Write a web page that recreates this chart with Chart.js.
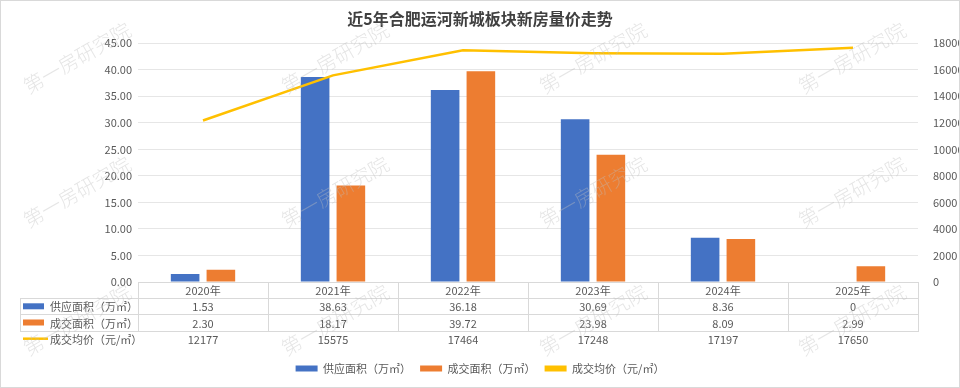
<!DOCTYPE html>
<html>
<head>
<meta charset="utf-8">
<script src="https://cdn.jsdelivr.net/npm/chart.js@4.4.0/dist/chart.umd.min.js"></script>
<style>
  body { margin: 0; background: #fff; }
  canvas { display: block; }
</style>
</head>
<body>
<canvas id="trendChart" width="960" height="388"></canvas>
<script>
const years = ['2020年', '2021年', '2022年', '2023年', '2024年', '2025年'];
const supplyArea = [1.53, 38.63, 36.18, 30.69, 8.36, 0];
const dealArea = [2.30, 18.17, 39.72, 23.98, 8.09, 2.99];
const avgPrice = [12177, 15575, 17464, 17248, 17197, 17650];

const FONT = '"Noto Sans CJK SC", "Noto Sans", sans-serif';
const GREY = '#595959';

function fmtArea(v) {
  return v === 0 ? '0' : v.toFixed(2);
}

// data table under the plot, columns follow the x scale
const tablePlugin = {
  id: 'dataTable',
  afterDraw(chart) {
    const { ctx, chartArea } = chart;
    const x = chart.scales.x;
    const top = chartArea.bottom;
    const rowH = 16.2;
    const colW = x.width / years.length;
    const labelLeft = 20;
    const rows = [
      { ds: 0, values: supplyArea, fmt: fmtArea },
      { ds: 1, values: dealArea, fmt: fmtArea },
      { ds: 2, values: avgPrice, fmt: v => String(v) },
    ];

    ctx.save();
    ctx.strokeStyle = '#d9d9d9';
    ctx.lineWidth = 1;
    ctx.beginPath();
    ctx.moveTo(chartArea.left, top + 0.5);
    ctx.lineTo(chartArea.right, top + 0.5);
    for (let i = 1; i <= rows.length; i++) {
      const y = Math.round(top + i * rowH) + 0.5;
      ctx.moveTo(labelLeft, y);
      ctx.lineTo(chartArea.right, y);
    }
    ctx.moveTo(labelLeft + 0.5, Math.round(top + rowH));
    ctx.lineTo(labelLeft + 0.5, Math.round(top + rows.length * rowH) + 1);
    for (let i = 0; i <= years.length; i++) {
      const edge = i < years.length ? x.getPixelForValue(i) - colW / 2 : x.getPixelForValue(i - 1) + colW / 2;
      const xx = Math.round(edge) + 0.5;
      ctx.moveTo(xx, top);
      ctx.lineTo(xx, Math.round(top + rows.length * rowH) + 1);
    }
    ctx.stroke();

    ctx.fillStyle = GREY;
    ctx.font = '11px ' + FONT;
    ctx.textAlign = 'center';
    ctx.textBaseline = 'middle';
    years.forEach((yr, i) => {
      ctx.fillText(yr, x.getPixelForValue(i), top + rowH / 2 + 1);
    });

    rows.forEach((row, r) => {
      const cy = top + (r + 1) * rowH + rowH / 2 + 1;
      const ds = chart.data.datasets[row.ds];
      ctx.textAlign = 'center';
      ctx.fillStyle = GREY;
      row.values.forEach((v, i) => {
        ctx.fillText(row.fmt(v), x.getPixelForValue(i), cy);
      });
      // legend key in first column
      if (ds.type === 'line') {
        ctx.strokeStyle = ds.borderColor;
        ctx.lineWidth = 2.5;
        ctx.beginPath();
        ctx.moveTo(23, cy - 1);
        ctx.lineTo(48, cy - 1);
        ctx.stroke();
      } else {
        ctx.fillStyle = ds.backgroundColor;
        ctx.fillRect(23, cy - 4, 21, 6);
      }
      ctx.fillStyle = GREY;
      ctx.textAlign = 'left';
      ctx.fillText(ds.label, 50, cy);
    });
    ctx.restore();
  }
};

// watermark + outer frame
const watermarkPlugin = {
  id: 'watermark',
  afterDraw(chart) {
    const { ctx } = chart;
    const spots = [];
    [77, 335, 593, 852].forEach(cx => {
      [58, 192, 320].forEach(cy => spots.push([cx, cy]));
    });
    ctx.save();
    ctx.font = '300 20px ' + FONT;
    ctx.fillStyle = 'rgba(190, 190, 190, 0.4)';
    ctx.textAlign = 'center';
    ctx.textBaseline = 'middle';
    spots.forEach(([cx, cy]) => {
      ctx.save();
      ctx.translate(cx, cy);
      ctx.rotate(-30 * Math.PI / 180);
      ctx.fillText('第一房研究院', 0, 0);
      ctx.restore();
    });
    ctx.strokeStyle = '#d9d9d9';
    ctx.lineWidth = 1;
    ctx.strokeRect(0.5, 0.5, chart.width - 1, chart.height - 1);
    ctx.restore();
  }
};

const ctx = document.getElementById('trendChart').getContext('2d');

const trendChart = new Chart(ctx, {
  data: {
    labels: years,
    datasets: [
      {
        type: 'bar',
        label: '供应面积（万㎡）',
        data: supplyArea,
        backgroundColor: '#4472C4',
        yAxisID: 'y',
        order: 1,
        categoryPercentage: 0.55,
        barPercentage: 0.8,
      },
      {
        type: 'bar',
        label: '成交面积（万㎡）',
        data: dealArea,
        backgroundColor: '#ED7D31',
        yAxisID: 'y',
        order: 1,
        categoryPercentage: 0.55,
        barPercentage: 0.8,
      },
      {
        type: 'line',
        label: '成交均价（元/㎡）',
        data: avgPrice,
        borderColor: '#FFC000',
        backgroundColor: '#FFC000',
        borderWidth: 2.5,
        pointRadius: 0,
        tension: 0,
        fill: false,
        yAxisID: 'y1',
        order: 0,
      },
    ],
  },
  options: {
    responsive: false,
    animation: false,
    layout: { padding: { left: 0, right: 0, top: 0, bottom: 4 } },
    plugins: {
      title: {
        display: true,
        text: '近5年合肥运河新城板块新房量价走势',
        color: '#404040',
        font: { family: FONT, size: 16, weight: 'bold' },
        padding: { top: 9, bottom: 15 },
      },
      legend: {
        position: 'bottom',
        labels: {
          color: GREY,
          font: { family: FONT, size: 11 },
          boxWidth: 22,
          boxHeight: 6,
          padding: 9,
          sort: (a, b) => a.datasetIndex - b.datasetIndex,
          generateLabels: chart => {
            const items = Chart.defaults.plugins.legend.labels.generateLabels(chart);
            items.forEach(it => { it.lineWidth = 0; });
            return items;
          },
        },
      },
      tooltip: { enabled: false },
    },
    scales: {
      x: {
        grid: { display: false },
        border: { display: false },
        ticks: { display: false },
        afterFit: scale => { scale.height = 72; },
      },
      y: {
        position: 'left',
        min: 0,
        max: 45,
        ticks: {
          stepSize: 5,
          color: GREY,
          font: { family: FONT, size: 11 },
          padding: 6,
          callback: v => v.toFixed(2),
        },
        grid: { color: '#e6e6e6', drawTicks: false },
        border: { display: false },
        afterFit: scale => { scale.width = 138; },
      },
      y1: {
        position: 'right',
        min: 0,
        max: 18000,
        ticks: {
          stepSize: 2000,
          color: GREY,
          font: { family: FONT, size: 11 },
          padding: 7,
          callback: v => String(v),
        },
        grid: { display: false },
        border: { display: false },
        afterFit: scale => { scale.width = 42; },
      },
    },
  },
  plugins: [tablePlugin, watermarkPlugin],
});
</script>
</body>
</html>
